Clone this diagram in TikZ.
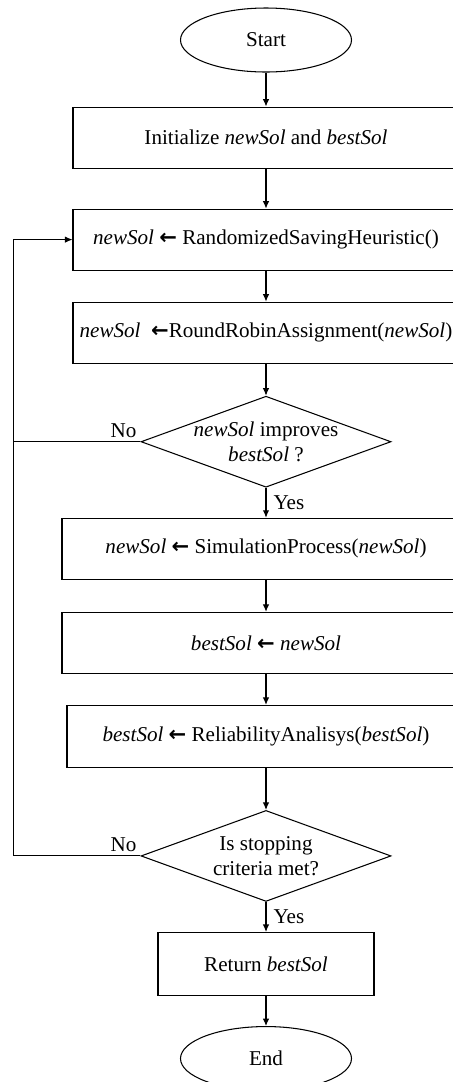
\documentclass[tikz,border=0pt]{standalone}
\usepackage{fontspec}
\setmainfont{Liberation Serif}
\newfontfamily\arrowfont{DejaVu Sans}
\usetikzlibrary{positioning,shapes.geometric,arrows.meta}
\newcommand{\assign}{{\arrowfont\bfseries ←}}

\begin{document}
\begin{tikzpicture}[
    node distance=0.65cm,
    font=\fontsize{12pt}{14.4pt}\selectfont,
    line width=0.6pt,
    box/.style={draw, minimum width=7.72cm, minimum height=1.22cm, align=center},
    term/.style={draw, ellipse, minimum width=3.42cm, minimum height=1.28cm, inner sep=0pt},
    decision/.style={draw, diamond, aspect=2.75, minimum width=5cm, minimum height=1.82cm, inner sep=-1.5pt, align=center},
    arr/.style={-{Latex[length=1.5mm,width=1.3mm]}},
    lbl/.style={inner sep=2pt}
  ]
    \useasboundingbox (0,0) rectangle (9.06,-21.64);

    \node[term] (start) at (5.32,-0.8) {Start};
    \node[box, below=0.68cm of start] (init) {Initialize \textit{newSol} and \textit{bestSol}};
    \node[box, below=0.8cm of init] (randsol) {\textit{newSol} \assign{} RandomizedSavingHeuristic()};
    \node[box, below=0.62cm of randsol] (rrassign) {\textit{newSol}\ \ \assign RoundRobinAssignment(\textit{newSol})};
    \node[decision, below=0.64cm of rrassign] (improves) {\textit{newSol} improves\\\textit{bestSol} ?};
    \node[box, minimum width=8.16cm, below=0.6cm of improves] (simproc) {\textit{newSol} \assign{} SimulationProcess(\textit{newSol})};
    \node[box, minimum width=8.16cm, below=0.64cm of simproc] (update) {\textit{bestSol} \assign{} \textit{newSol}};
    \node[box, minimum width=7.96cm, minimum height=1.24cm, below=0.62cm of update] (reliab) {\textit{bestSol} \assign{} ReliabilityAnalisys(\textit{bestSol})};
    \node[decision, below=0.84cm of reliab] (stopcrit) {Is stopping\\criteria met?};
    \node[box, minimum width=4.32cm, minimum height=1.26cm, below=0.6cm of stopcrit] (ret) {Return \textit{bestSol}};
    \node[term, below=0.6cm of ret] (stop) {End};

    \coordinate[left=1.18cm of randsol.west] (loop);

    \draw[arr] (start) -- (init);
    \draw[arr] (init) -- (randsol);
    \draw[arr] (randsol) -- (rrassign);
    \draw[arr] (rrassign) -- (improves);
    \draw[arr] (improves) -- node[right, lbl, xshift=2pt] {Yes} (simproc);
    \draw[arr] (simproc) -- (update);
    \draw[arr] (update) -- (reliab);
    \draw[arr] (reliab) -- (stopcrit);
    \draw[arr] (stopcrit) -- node[right, lbl, xshift=2pt] {Yes} (ret);
    \draw[arr] (ret) -- (stop);

    % back to a new solution
    \draw[arr] (improves.west) node[above left, lbl] {No} -| (loop) -- (randsol.west);
    \draw (stopcrit.west) node[above left, lbl] {No} -| (loop);
  \end{tikzpicture}
\end{document}
